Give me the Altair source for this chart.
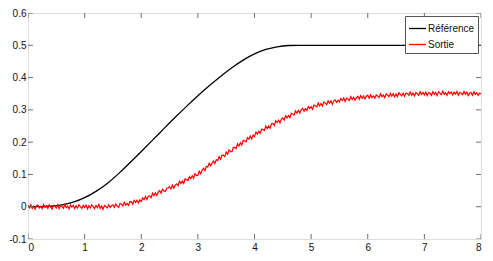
import altair as alt
import pandas as pd

# Reference curve (black), sampled every 0.2 s
ref_t = [round(i * 0.2, 1) for i in range(41)]
ref_y = [0.0, 0.0, 0.001, 0.005, 0.013, 0.027, 0.047, 0.071, 0.102, 0.136,
         0.171, 0.206, 0.242, 0.277, 0.311, 0.344, 0.375, 0.404, 0.431, 0.455,
         0.474, 0.488, 0.496, 0.500, 0.500, 0.500, 0.500, 0.500, 0.500, 0.500,
         0.500, 0.500, 0.500, 0.500, 0.500, 0.500, 0.500, 0.500, 0.500, 0.500,
         0.500]

# Output (red, noisy), sampled every 0.025 s
out_y = [
    0.004, -0.003, 0.006, -0.005, 0.002, -0.007, 0.003, 0.005, -0.004, 0.001, -0.006, 0.007, -0.002, 0.003, -0.005, 0.006, -0.001, -0.007, 0.004, 0.002,
    -0.004, 0.006, -0.006, 0.003, 0.001, -0.005, 0.007, -0.003, 0.002, -0.007, 0.005, -0.001, 0.004, -0.006, 0.003, -0.004, 0.006, 0.000, -0.005, 0.004,
    -0.002, 0.005, -0.007, 0.003, -0.004, 0.006, 0.001, -0.006, 0.004, -0.003, 0.007, -0.005, 0.002, -0.008, 0.004, 0.001, -0.004, 0.006, -0.002, 0.003,
    0.006, -0.002, 0.009, 0.002, -0.002, 0.010, 0.008, 0.002, 0.014, 0.005, 0.010, 0.004, 0.016, 0.015, 0.008, 0.020, 0.013, 0.020, 0.012, 0.021,
    0.016, 0.027, 0.022, 0.032, 0.022, 0.033, 0.033, 0.028, 0.042, 0.034, 0.043, 0.035, 0.045, 0.050, 0.042, 0.054, 0.049, 0.047, 0.058, 0.058,
    0.062, 0.055, 0.067, 0.057, 0.067, 0.071, 0.065, 0.079, 0.072, 0.080, 0.072, 0.086, 0.084, 0.081, 0.093, 0.087, 0.096, 0.088, 0.102, 0.097,
    0.097, 0.110, 0.102, 0.113, 0.119, 0.112, 0.125, 0.123, 0.135, 0.127, 0.135, 0.142, 0.134, 0.146, 0.143, 0.155, 0.147, 0.159, 0.160, 0.155,
    0.169, 0.163, 0.176, 0.171, 0.170, 0.183, 0.184, 0.180, 0.195, 0.188, 0.198, 0.191, 0.205, 0.204, 0.201, 0.214, 0.209, 0.219, 0.210, 0.222,
    0.217, 0.231, 0.225, 0.234, 0.227, 0.240, 0.239, 0.236, 0.250, 0.242, 0.250, 0.243, 0.257, 0.258, 0.252, 0.266, 0.261, 0.268, 0.260, 0.271,
    0.275, 0.268, 0.282, 0.275, 0.282, 0.276, 0.289, 0.287, 0.284, 0.297, 0.290, 0.298, 0.290, 0.300, 0.305, 0.296, 0.304, 0.298, 0.310, 0.304,
    0.310, 0.302, 0.315, 0.313, 0.309, 0.321, 0.312, 0.320, 0.312, 0.324, 0.321, 0.316, 0.328, 0.321, 0.328, 0.317, 0.328, 0.331, 0.323, 0.330,
    0.325, 0.335, 0.329, 0.337, 0.326, 0.336, 0.334, 0.329, 0.341, 0.332, 0.339, 0.330, 0.338, 0.342, 0.333, 0.344, 0.336, 0.343, 0.334, 0.343,
    0.345, 0.336, 0.347, 0.338, 0.343, 0.336, 0.346, 0.343, 0.338, 0.350, 0.341, 0.346, 0.338, 0.349, 0.346, 0.341, 0.351, 0.342, 0.350, 0.340,
    0.349, 0.341, 0.353, 0.348, 0.343, 0.352, 0.342, 0.352, 0.350, 0.345, 0.355, 0.345, 0.352, 0.343, 0.354, 0.350, 0.345, 0.356, 0.348, 0.354,
    0.346, 0.355, 0.344, 0.353, 0.352, 0.345, 0.356, 0.348, 0.354, 0.344, 0.356, 0.352, 0.347, 0.358, 0.348, 0.353, 0.345, 0.356, 0.350, 0.355,
    0.346, 0.355, 0.349, 0.357, 0.345, 0.354, 0.352, 0.347, 0.357, 0.348, 0.355, 0.344, 0.352, 0.354, 0.345, 0.356, 0.348, 0.353, 0.345, 0.352,
    0.349,
]
out_dt = 0.025
out_t = [round(i * out_dt, 3) for i in range(len(out_y))]

series_names = ["Référence", "Sortie"]
series_colors = ["#000000", "#ff0000"]
x_ticks = [0, 1, 2, 3, 4, 5, 6, 7, 8]
y_ticks = [-0.1, 0.0, 0.1, 0.2, 0.3, 0.4, 0.5, 0.6]

FRAME = "#6e6e6e"
FONT = "Liberation Sans"

ref_df = pd.DataFrame({"t": ref_t, "y": ref_y, "series": series_names[0]})
out_df = pd.DataFrame({"t": out_t, "y": out_y, "series": series_names[1]})

xscale = alt.Scale(domain=[0, 8], nice=False, zero=False)
yscale = alt.Scale(domain=[-0.1, 0.6], nice=False, zero=False)
cscale = alt.Scale(domain=series_names, range=series_colors)

xaxis = alt.Axis(values=x_ticks, ticks=False, tickSize=0, domain=False, grid=False,
                 labelPadding=3, labelFont=FONT, labelFontSize=10, labelColor="#111",
                 labelOverlap=False, title=None, labelExpr="format(datum.value, 'd')")
yaxis = alt.Axis(values=y_ticks, ticks=False, tickSize=0, domain=False, grid=False,
                 labelPadding=2, labelFont=FONT, labelFontSize=10, labelColor="#111",
                 labelOverlap=False, title=None,
                 labelExpr="abs(datum.value) < 1e-9 ? '0' : (datum.value < 0 ? '-' + format(-datum.value, '.1f') : format(datum.value, '.1f'))")

legend = alt.Legend(title=None, orient="top-right", offset=3, padding=3,
                    strokeColor="#555", fillColor="white", cornerRadius=0,
                    symbolType="stroke", symbolSize=289, symbolStrokeWidth=1.3,
                    labelFont=FONT, labelFontSize=10, labelColor="#111",
                    labelOffset=1, rowPadding=1, symbolOffset=0)

ref_line = alt.Chart(ref_df).mark_line(strokeWidth=1.3, interpolate="basis").encode(
    x=alt.X("t:Q", scale=xscale, axis=xaxis),
    y=alt.Y("y:Q", scale=yscale, axis=yaxis),
    color=alt.Color("series:N", scale=cscale, legend=legend),
)
out_line = alt.Chart(out_df).mark_line(strokeWidth=1.2).encode(
    x=alt.X("t:Q", scale=xscale, axis=xaxis),
    y=alt.Y("y:Q", scale=yscale, axis=yaxis),
    color=alt.Color("series:N", scale=cscale, legend=legend),
)

xt_df = pd.DataFrame({"t": x_ticks})
yt_df = pd.DataFrame({"v": y_ticks})
tick_size = 10  # centred on the frame, clipped to the plot: 5 px inside
tick_kw = dict(size=tick_size, thickness=1, color=FRAME, opacity=1, clip=True)
bottom_ticks = alt.Chart(xt_df).mark_tick(orient="vertical", **tick_kw).encode(
    x=alt.X("t:Q", scale=xscale, axis=xaxis), y=alt.datum(y_ticks[0], axis=yaxis))
top_ticks = alt.Chart(xt_df).mark_tick(orient="vertical", **tick_kw).encode(
    x=alt.X("t:Q", scale=xscale, axis=xaxis), y=alt.datum(y_ticks[-1], axis=yaxis))
left_ticks = alt.Chart(yt_df).mark_tick(orient="horizontal", **tick_kw).encode(
    y=alt.Y("v:Q", scale=yscale, axis=yaxis), x=alt.datum(x_ticks[0], axis=xaxis))
right_ticks = alt.Chart(yt_df).mark_tick(orient="horizontal", **tick_kw).encode(
    y=alt.Y("v:Q", scale=yscale, axis=yaxis), x=alt.datum(x_ticks[-1], axis=xaxis))

chart = alt.layer(ref_line, out_line, bottom_ticks, top_ticks, left_ticks, right_ticks).properties(
    width=477, height=244,
    autosize=alt.AutoSizeParams(type="fit", contains="padding"),
    padding={"left": 0, "top": 0, "right": 1, "bottom": 0},
).configure_view(stroke=FRAME, strokeWidth=1).configure(background="white")

chart.save("out.html", embed_options={"renderer": "svg", "actions": False})
